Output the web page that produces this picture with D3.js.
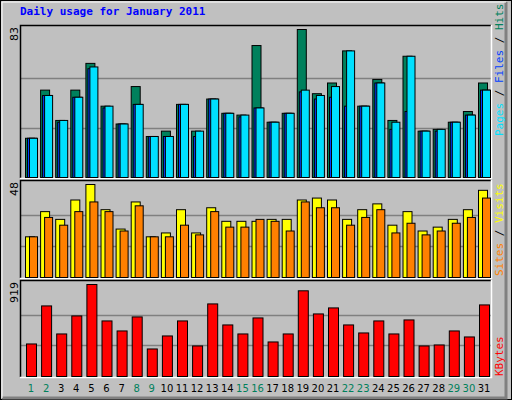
<!DOCTYPE html><html><head><meta charset="utf-8">
<script src="https://cdn.jsdelivr.net/npm/d3@7"></script>
<style>body{margin:0;background:#fff}</style></head><body><svg id="c" width="512" height="400"></svg>
<script>
const days = d3.range(1,32);
const weekend = [1,2,8,9,15,16,22,23,29,30];
const hits  = [22,49,32,49,64,40,30,51,23,26,41,26,44,36,35,74,31,36,83,47,53,71,40,55,32,68,26,27,31,37,53];
const files = [22,46,31,45,61,39,30,41,23,23,41,23,44,36,34,39,31,36,48,44,45,40,40,53,27,37,26,26,31,35,49];
const pages = [22,46,32,45,62,40,30,41,23,23,41,26,44,36,35,39,31,36,49,46,51,71,40,53,31,68,26,27,31,35,49];
const sites = [21,34,30,40,48,35,25,39,21,23,35,23,36,29,29,29,30,30,40,41,40,30,35,38,27,34,24,26,30,35,45];
const visits= [21,31,27,34,39,34,24,37,21,21,27,22,34,26,26,30,29,24,39,36,36,27,31,35,23,28,22,24,28,31,41];
const kbytes= [325,705,425,605,919,555,455,595,275,405,555,305,725,515,425,585,345,425,856,625,685,515,435,555,425,565,305,315,455,395,715];

const svg = d3.select('#c');
svg.append('rect').attr('x',0).attr('y',0).attr('width',512).attr('height',400).attr('fill','#c0c0c0');
svg.append('rect').attr('x',0.5).attr('y',0.5).attr('width',511).attr('height',399).attr('fill','none').attr('stroke','#000');
svg.append('path').attr('d','M506,2V398H2').attr('stroke','#808080').attr('stroke-width',3).attr('fill','none');
svg.append('path').attr('d','M2,398V2H506').attr('stroke','#fff').attr('stroke-width',1).attr('fill','none');
svg.append('text').attr('x',20).attr('y',15).text('Daily usage for January 2011')
  .attr('font-family','DejaVu Sans Mono').attr('font-weight','bold').attr('font-size',11).attr('fill','#0000ff');

const x = d3.scaleLinear().domain([1,31]).range([25,478]);
const X0=20, X1=491;
function panel(top,base,max,yTop,label){
  svg.append('rect').attr('x',X0).attr('y',top).attr('width',X1-X0).attr('height',base-top+1).attr('fill','#c0c0c0');
  const y=d3.scaleLinear().domain([0,max]).range([base,yTop]);
  [max/3,2*max/3].forEach(v=>svg.append('line').attr('x1',X0).attr('x2',X1).attr('y1',Math.round(y(v))+0.5).attr('y2',Math.round(y(v))+0.5).attr('stroke','#808080').attr('stroke-width',1.5));
  svg.append('path').attr('d',`M${X0+0.5},${base+1}V${top+0.5}H${X1}`).attr('stroke','#000').attr('stroke-width',1.5).attr('fill','none');
  svg.append('path').attr('d',`M${X1+0.5},${top}V${base+1.5}H${X0}`).attr('stroke','#fff').attr('stroke-width',1.5).attr('fill','none');
  svg.append('text').attr('transform',`translate(18,${top+2}) rotate(-90)`).attr('text-anchor','end')
    .attr('font-family','DejaVu Sans').attr('font-size',11).attr('fill','#000').text(label);
  return y;
}
function bars(data,y,base,off,w,color){
  svg.append('g').selectAll('rect').data(data).join('rect')
    .attr('x',(d,i)=>x(i+1)+off+0.5).attr('y',d=>y(d)+0.5).attr('width',w).attr('height',d=>base-y(d))
    .attr('fill',color).attr('stroke','#000').attr('stroke-width',1);
}
const y1=panel(25,177,83,29,'83');
bars(hits,y1,177,0,9,'#00805c');
bars(files,y1,177,2,9,'#0040ff');
bars(pages,y1,177,4,8,'#00e0ff');
const y2=panel(180,277,48,184,'48');
bars(sites,y2,277,0,9,'#ffff00');
bars(visits,y2,277,4,8,'#ff8000');
const y3=panel(280,376,919,284,'919');
bars(kbytes,y3,376,1,10,'#ff0000');

svg.append('g').selectAll('text').data(days).join('text')
  .attr('x',d=>x(d)+6).attr('y',392).attr('text-anchor','middle')
  .attr('font-family','DejaVu Sans').attr('font-size',10)
  .attr('fill',d=>weekend.includes(d)?'#00805c':'#000').text(d=>d);

function rlabel(yEnd,parts){
  const t=svg.append('text').attr('transform',`translate(503,${yEnd}) rotate(-90)`)
    .attr('font-family','DejaVu Sans Mono').attr('font-size',11);
  parts.forEach(([s,c])=>t.append('tspan').attr('fill',c).text(s));
}
rlabel(136,[['Pages','#00e0ff'],[' / ','#000'],['Files','#0040ff'],[' / ','#000'],['Hits','#00805c']]);
rlabel(276,[['Sites','#ff8000'],[' / ','#000'],['Visits','#ffff00']]);
rlabel(376,[['KBytes','#ff0000']]);
</script></body></html>
